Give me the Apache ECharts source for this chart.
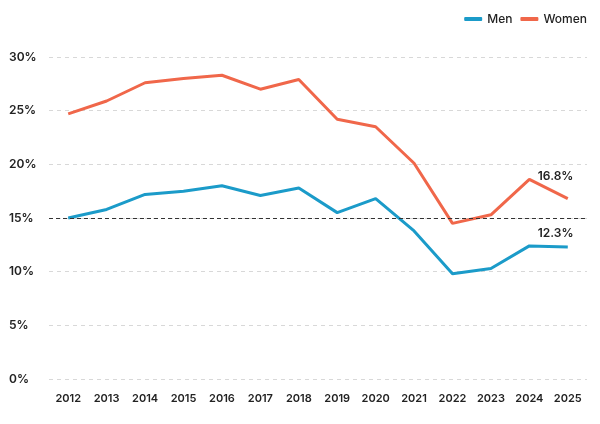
<!DOCTYPE html>
<html>
<head>
<meta charset="utf-8">
<script src="https://cdn.jsdelivr.net/npm/echarts@6/dist/echarts.min.js"></script>
<style>html,body{margin:0;padding:0;background:#fff}#chart{width:600px;height:424px}</style>
</head>
<body>
<div id="chart"></div>
<script>
var years = ['2012','2013','2014','2015','2016','2017','2018','2019','2020','2021','2022','2023','2024','2025'];
var men = [15.0, 15.8, 17.2, 17.5, 18.0, 17.1, 17.8, 15.5, 16.8, 13.8, 9.8, 10.3, 12.4, 12.3];
var women = [24.7, 25.9, 27.6, 28.0, 28.3, 27.0, 27.9, 24.2, 23.5, 20.1, 14.5, 15.3, 18.6, 16.8];
var yTicks = [0, 5, 10, 15, 20, 25, 30];

var font = 'Inter, "Noto Sans", sans-serif';
var myChart = echarts.init(document.getElementById('chart'));

function endText(p) {
    return Number(p.value).toFixed(1) + '%';
}

var option = {
    animation: false,
    textStyle: { fontFamily: font },
    legend: {
        top: 8, right: 8, itemWidth: 18, itemHeight: 4, icon: 'roundRect',
        textStyle: { fontSize: 12, color: '#222', fontWeight: 500 },
        data: ['Men', 'Women']
    },
    grid: { left: 49, right: 13, top: 57, bottom: 45 },
    xAxis: {
        type: 'category', data: years, boundaryGap: true,
        axisLine: { show: false }, axisTick: { show: false },
        axisLabel: { interval: 0, color: '#222', fontSize: 11, fontWeight: 600, margin: 14 }
    },
    yAxis: {
        type: 'value', min: 0, max: 30, interval: 5,
        axisLabel: {
            color: '#222', fontSize: 12, fontWeight: 600, align: 'left', margin: 40,
            formatter: function (v) { return yTicks.indexOf(v) >= 0 ? v + '%' : ''; }
        },
        splitLine: { lineStyle: { color: '#d8d8d8', type: [4, 4] } }
    },
    series: [
        {
            name: 'Men', type: 'line', data: men, showSymbol: false, symbol: 'none',
            lineStyle: { color: '#1b9bc9', width: 3 }, itemStyle: { color: '#1b9bc9' },
            endLabel: { show: true, color: '#222', fontSize: 12, fontWeight: 600, offset: [-38, -14], formatter: endText },
            markLine: {
                silent: true, symbol: 'none', label: { show: false },
                lineStyle: { color: '#333', type: [4, 3], width: 1 },
                data: [{ yAxis: 15 }]
            }
        },
        {
            name: 'Women', type: 'line', data: women, showSymbol: false, symbol: 'none',
            lineStyle: { color: '#f0674a', width: 3 }, itemStyle: { color: '#f0674a' },
            endLabel: { show: true, color: '#222', fontSize: 12, fontWeight: 600, offset: [-38, -22], formatter: endText }
        }
    ]
};

option && myChart.setOption(option);
window.onresize = function () { myChart.resize(); };
</script>
</body>
</html>
